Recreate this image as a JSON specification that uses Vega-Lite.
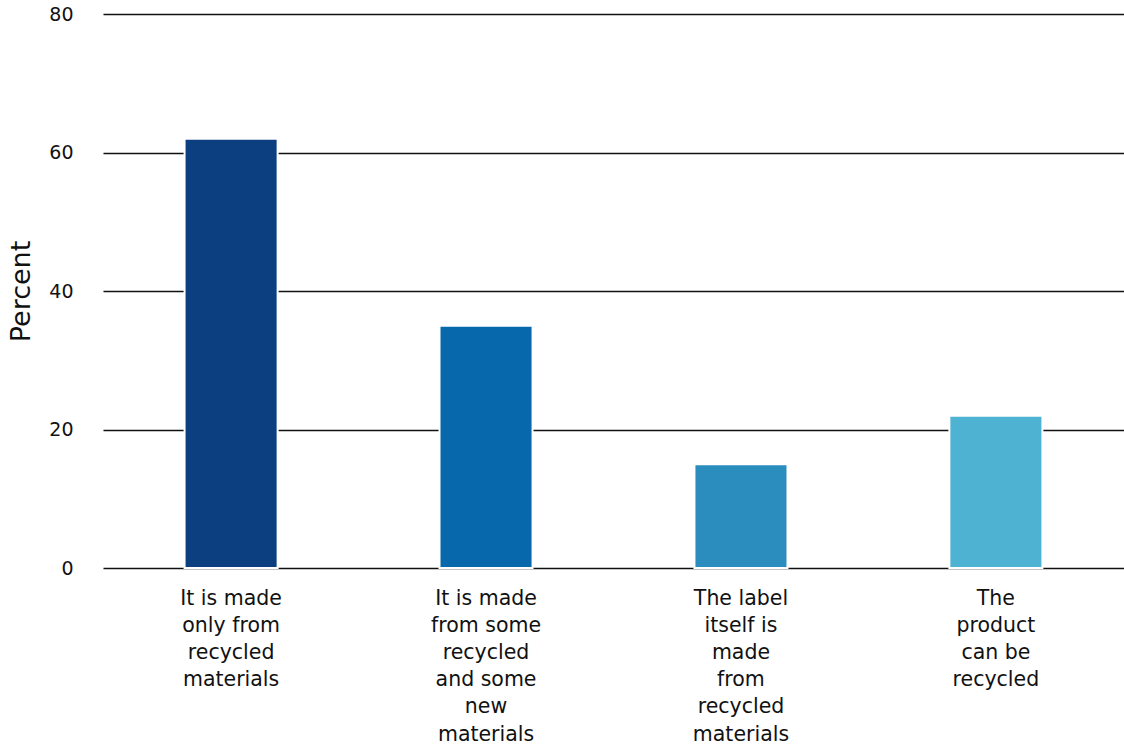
{
  "$schema": "https://vega.github.io/schema/vega-lite/v6.json",
  "autosize": "none",
  "width": 1021,
  "height": 554,
  "padding": {"left": 103, "top": 14, "right": 0, "bottom": 180},
  "background": "white",
  "config": {"view": {"stroke": null}},
  "data": {
    "values": [
      {"answer": "It is made|only from|recycled|materials", "percent": 62, "order": 1},
      {"answer": "It is made|from some|recycled|and some|new|materials", "percent": 35, "order": 2},
      {"answer": "The label|itself is|made|from|recycled|materials", "percent": 15, "order": 3},
      {"answer": "The|product|can be|recycled", "percent": 22, "order": 4}
    ]
  },
  "mark": {"type": "bar", "stroke": "white", "strokeWidth": 2},
  "encoding": {
    "x": {
      "field": "answer",
      "type": "nominal",
      "sort": {"field": "order"},
      "scale": {"paddingInner": 0.635, "paddingOuter": 0.32},
      "axis": {
        "title": null,
        "domain": false,
        "ticks": false,
        "labelAngle": 0,
        "labelExpr": "split(datum.label, '|')",
        "labelFont": "DejaVu Sans",
        "labelFontSize": 20.5,
        "labelColor": "#111111",
        "labelLineHeight": 27.2,
        "labelPadding": 20,
        "labelBaseline": "top"
      }
    },
    "y": {
      "field": "percent",
      "type": "quantitative",
      "scale": {"domain": [0, 80]},
      "axis": {
        "title": "Percent",
        "titleFont": "DejaVu Sans",
        "titleFontSize": 27,
        "titleFontWeight": "normal",
        "titleColor": "#111111",
        "titlePadding": 13,
        "values": [0, 20, 40, 60, 80],
        "domain": false,
        "ticks": false,
        "labelFont": "DejaVu Sans",
        "labelFontSize": 19,
        "labelColor": "#111111",
        "labelPadding": 30,
        "grid": true,
        "gridColor": "#111111",
        "gridWidth": 1.5,
        "gridOpacity": 1
      }
    },
    "color": {
      "field": "answer",
      "type": "nominal",
      "sort": {"field": "order"},
      "scale": {"range": ["#0b3f7f", "#0868ac", "#2b8cbe", "#4eb3d3"]},
      "legend": null
    }
  }
}
